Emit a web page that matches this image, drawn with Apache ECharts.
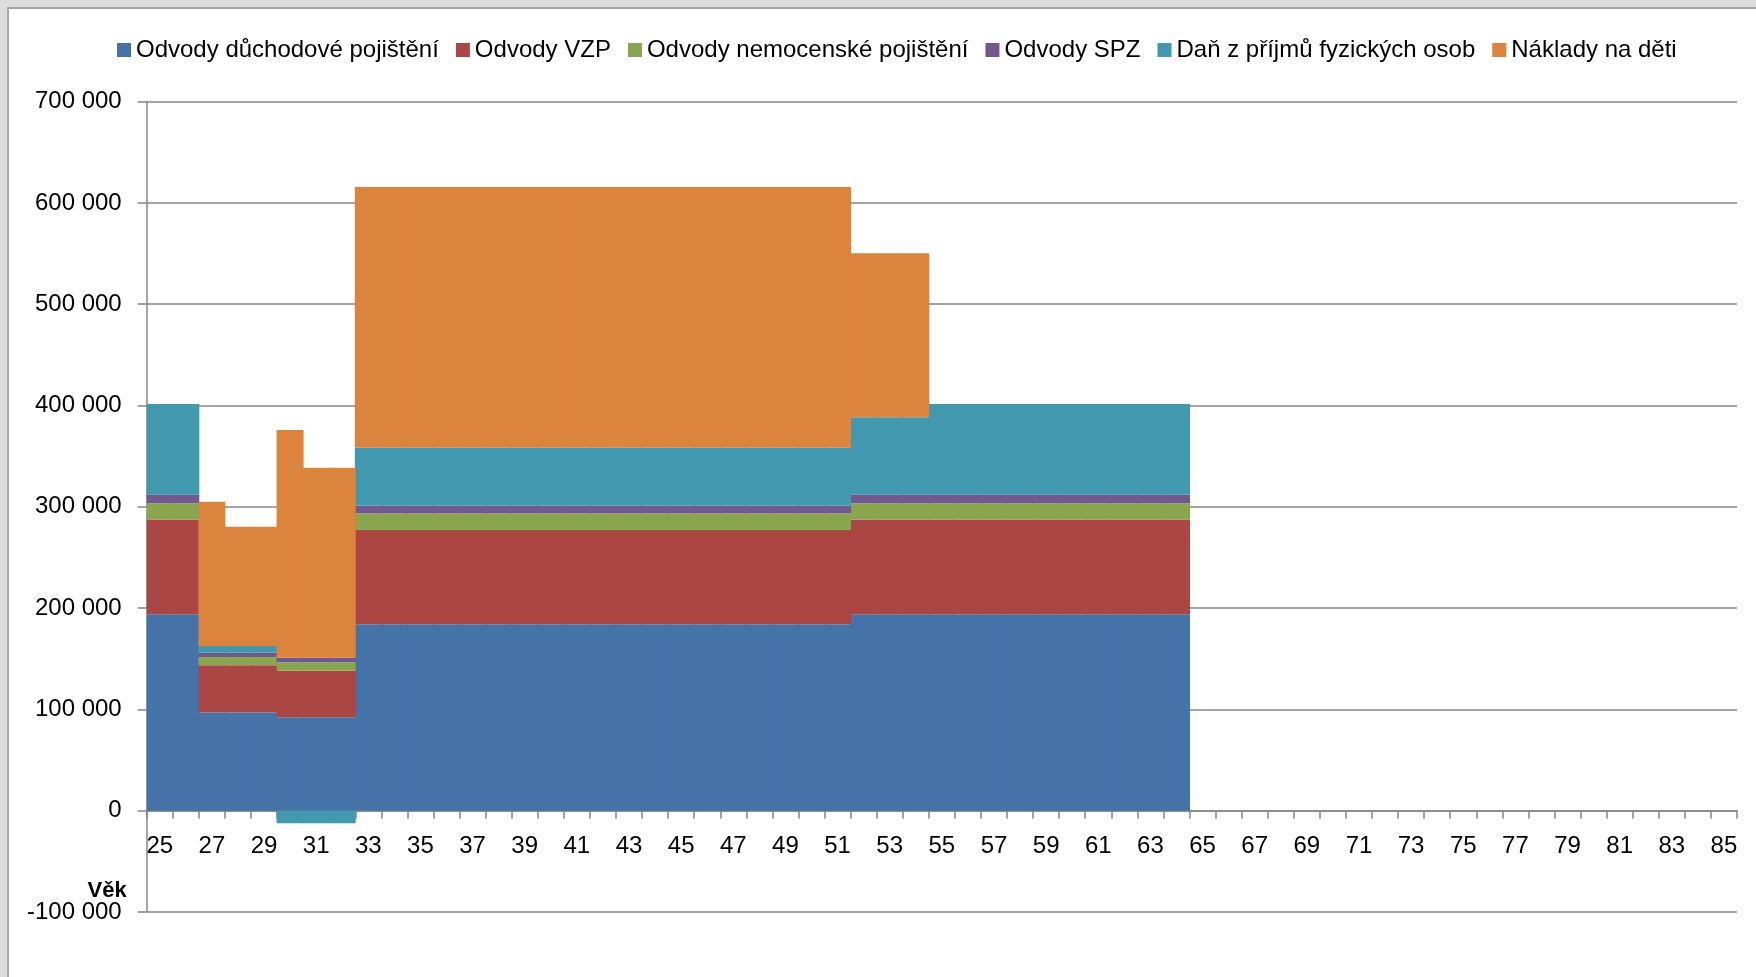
<!DOCTYPE html>
<html lang="cs">
<head>
<meta charset="utf-8">
<title>Odvody a náklady podle věku</title>
<script src="https://cdn.jsdelivr.net/npm/echarts@6/dist/echarts.min.js"></script>
<style>
  html, body {
    margin: 0;
    padding: 0;
    width: 100%;
    height: 100%;
    background: #dcdcdc;
    overflow: hidden;
  }
  /* bílá plocha grafu s šedým rámečkem vlevo a nahoře */
  #frame {
    position: absolute;
    left: 7px;
    top: 7px;
    right: 0;
    bottom: 0;
    background: #ffffff;
    border-left: 2px solid #a6a6a6;
    border-top: 2px solid #a6a6a6;
  }
  #chart {
    width: 100%;
    height: 100%;
  }
</style>
</head>
<body>
<div id="frame"><div id="chart"></div></div>
<script>
// věk (kategorie osy x)
const ages = [
  '25', '26', '27', '28', '29', '30', '31', '32', '33', '34', '35', '36', '37', '38', '39', '40',
  '41', '42', '43', '44', '45', '46', '47', '48', '49', '50', '51', '52', '53', '54', '55', '56',
  '57', '58', '59', '60', '61', '62', '63', '64', '65', '66', '67', '68', '69', '70', '71', '72',
  '73', '74', '75', '76', '77', '78', '79', '80', '81', '82', '83', '84', '85'
]

const seriesNames = [
  'Odvody důchodové pojištění',
  'Odvody VZP',
  'Odvody nemocenské pojištění',
  'Odvody SPZ',
  'Daň z příjmů fyzických osob',
  'Náklady na děti'
]

// hodnoty po jednotlivých letech (25 .. 85), od 65 let prázdné
const duchodove = [
  194000, 194000, 97000, 97000, 97000, 92200, 92200, 92200,
  184000, 184000, 184000, 184000, 184000, 184000, 184000, 184000, 184000, 184000,
  184000, 184000, 184000, 184000, 184000, 184000, 184000, 184000, 184000,
  194000, 194000, 194000,
  194000, 194000, 194000, 194000, 194000, 194000, 194000, 194000, 194000, 194000,
  null, null, null, null, null, null, null, null, null, null, null,
  null, null, null, null, null, null, null, null, null, null
]

const vzp = [
  93500, 93500, 46700, 46700, 46700, 46000, 46000, 46000,
  93000, 93000, 93000, 93000, 93000, 93000, 93000, 93000, 93000, 93000,
  93000, 93000, 93000, 93000, 93000, 93000, 93000, 93000, 93000,
  93500, 93500, 93500,
  93500, 93500, 93500, 93500, 93500, 93500, 93500, 93500, 93500, 93500,
  null, null, null, null, null, null, null, null, null, null, null,
  null, null, null, null, null, null, null, null, null, null
]

const nemocenske = [
  16000, 16000, 8000, 8000, 8000, 8300, 8300, 8300,
  16500, 16500, 16500, 16500, 16500, 16500, 16500, 16500, 16500, 16500,
  16500, 16500, 16500, 16500, 16500, 16500, 16500, 16500, 16500,
  16000, 16000, 16000,
  16000, 16000, 16000, 16000, 16000, 16000, 16000, 16000, 16000, 16000,
  null, null, null, null, null, null, null, null, null, null, null,
  null, null, null, null, null, null, null, null, null, null
]

const spz = [
  8500, 8500, 4300, 4300, 4300, 4500, 4500, 4500,
  7500, 7500, 7500, 7500, 7500, 7500, 7500, 7500, 7500, 7500,
  7500, 7500, 7500, 7500, 7500, 7500, 7500, 7500, 7500,
  8500, 8500, 8500,
  8500, 8500, 8500, 8500, 8500, 8500, 8500, 8500, 8500, 8500,
  null, null, null, null, null, null, null, null, null, null, null,
  null, null, null, null, null, null, null, null, null, null
]

const danZPrijmu = [
  89500, 89500, 6600, 6600, 6600, -12400, -12400, -12400,
  57300, 57300, 57300, 57300, 57300, 57300, 57300, 57300, 57300, 57300,
  57300, 57300, 57300, 57300, 57300, 57300, 57300, 57300, 57300,
  76300, 76300, 76300,
  89500, 89500, 89500, 89500, 89500, 89500, 89500, 89500, 89500, 89500,
  null, null, null, null, null, null, null, null, null, null, null,
  null, null, null, null, null, null, null, null, null, null
]

const nakladyNaDeti = [
  0, 0, 142400, 117800, 117800, 224800, 187600, 187600,
  257300, 257300, 257300, 257300, 257300, 257300, 257300, 257300, 257300, 257300,
  257300, 257300, 257300, 257300, 257300, 257300, 257300, 257300, 257300,
  161900, 161900, 161900,
  0, 0, 0, 0, 0, 0, 0, 0, 0, 0,
  null, null, null, null, null, null, null, null, null, null, null,
  null, null, null, null, null, null, null, null, null, null
]

// rozsah osy y
const yMin = -100000
const yMax = 700000
const yStep = 100000

// barvy ve stylu Excelu
const colors = ['#4572A7', '#AA4643', '#89A54E', '#71588F', '#4198AF', '#DB843D']

const fontFamily = '"Liberation Sans", Arial, sans-serif'
const gridColor = '#878787'

// rozměry plochy grafu
const plotTop = 92.6
const plotHeight = 810.4
// posun osy x na nulu (popisky zůstanou pod nulovou čárou)
const zeroOffset = -plotHeight * (0 - yMin) / (yMax - yMin)

// mezery mezi tisíci
const formatNumber = (v) => {
  const s = String(Math.abs(v)).replace(/\B(?=(\d{3})+(?!\d))/g, ' ')
  return v < 0 ? '-' + s : s
}

const values = [duchodove, vzp, nemocenske, spz, danZPrijmu, nakladyNaDeti]

const chart = echarts.init(document.getElementById('chart'))

const option = {
  animation: false,
  color: colors,
  textStyle: { fontFamily: fontFamily },
  legend: {
    top: 24,
    left: 103,
    icon: 'rect',
    itemWidth: 14,
    itemHeight: 14,
    itemGap: 17,
    textStyle: {
      fontFamily: fontFamily,
      fontSize: 24,
      color: '#000000',
      padding: [0, 0, 0, 0]
    },
    data: seriesNames
  },
  grid: {
    left: 137.7,
    top: plotTop,
    width: 1590.3,
    height: plotHeight,
    outerBoundsMode: 'none',
    containLabel: false
  },
  xAxis: {
    type: 'category',
    data: ages,
    boundaryGap: true,
    offset: zeroOffset,
    axisLine: {
      show: true,
      onZero: false,
      lineStyle: { color: gridColor, width: 1.5 }
    },
    axisTick: {
      show: true,
      interval: 0,
      length: 8,
      lineStyle: { color: gridColor, width: 1.5 }
    },
    axisLabel: {
      interval: 1,
      margin: 24,
      fontSize: 24,
      color: '#000000',
      fontFamily: fontFamily
    },
    splitLine: { show: false }
  },
  yAxis: {
    type: 'value',
    min: yMin,
    max: yMax,
    interval: yStep,
    axisLine: {
      show: true,
      lineStyle: { color: gridColor, width: 1.5 }
    },
    axisTick: {
      show: true,
      length: 9,
      lineStyle: { color: gridColor, width: 1.5 }
    },
    axisLabel: {
      margin: 25,
      fontSize: 24,
      color: '#000000',
      fontFamily: fontFamily,
      formatter: formatNumber
    },
    splitLine: {
      show: true,
      lineStyle: { color: gridColor, width: 1.5 }
    }
  },
  graphic: [
    {
      type: 'text',
      x: 117.7,
      y: 881.5,
      style: {
        text: 'Věk',
        align: 'right',
        verticalAlign: 'middle',
        fontFamily: fontFamily,
        fontSize: 22,
        fontWeight: 'bold',
        fill: '#000000'
      }
    }
  ],
  series: seriesNames.map((name, i) => ({
    name: name,
    type: 'bar',
    stack: 'celkem',
    barWidth: 27,
    data: values[i],
    itemStyle: {
      color: colors[i],
      borderWidth: 0
    },
    emphasis: { disabled: true }
  }))
}

chart.setOption(option)

window.addEventListener('resize', () => {
  chart.resize()
})
</script>
</body>
</html>
